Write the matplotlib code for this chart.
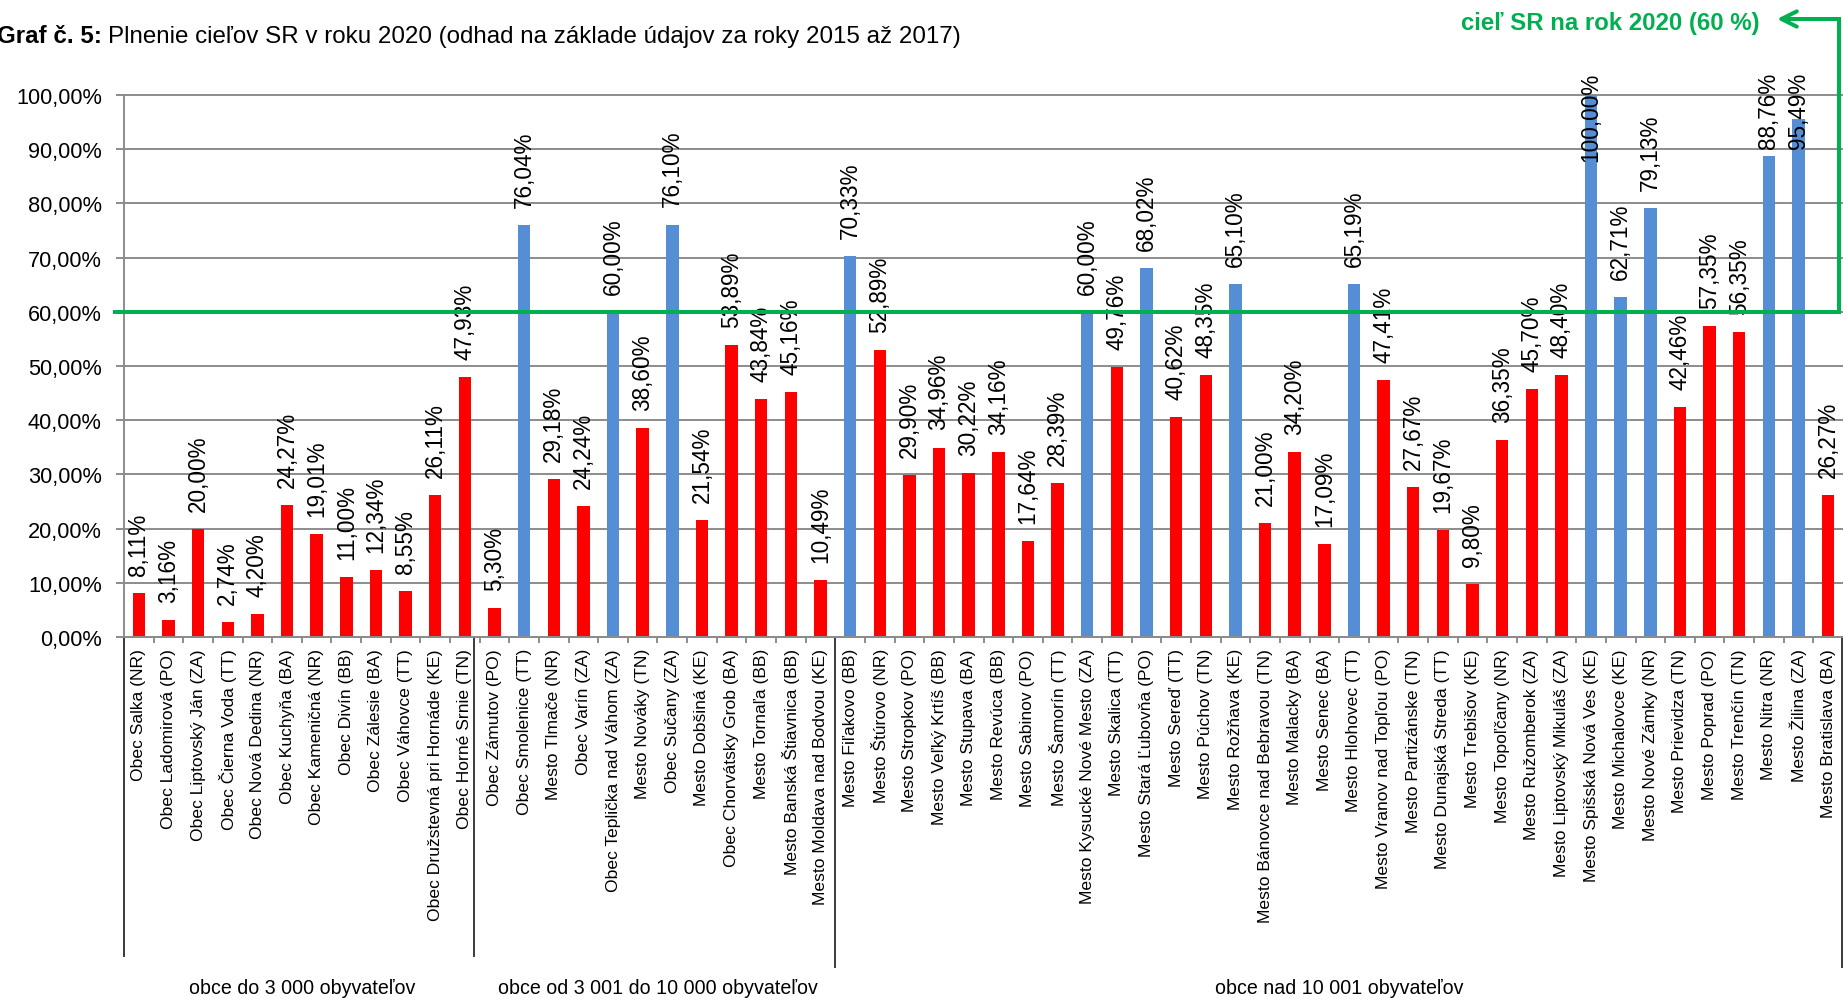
import numpy as np
import matplotlib
matplotlib.use('Agg')
import matplotlib.pyplot as plt
from matplotlib import font_manager
from matplotlib.transforms import blended_transform_factory

# --- data ---
categories = [
    'Obec Salka (NR)', 'Obec Ladomirová (PO)', 'Obec Liptovský Ján (ZA)', 'Obec Čierna Voda (TT)',
    'Obec Nová Dedina (NR)', 'Obec Kuchyňa (BA)', 'Obec Kameničná (NR)', 'Obec Divín (BB)',
    'Obec Zálesie (BA)', 'Obec Váhovce (TT)', 'Obec Družstevná pri Hornáde (KE)', 'Obec Horné Srnie (TN)',
    'Obec Zámutov (PO)', 'Obec Smolenice (TT)', 'Mesto Tlmače (NR)', 'Obec Varín (ZA)',
    'Obec Teplička nad Váhom (ZA)', 'Mesto Nováky (TN)', 'Obec Sučany (ZA)', 'Mesto Dobšiná (KE)',
    'Obec Chorvátsky Grob (BA)', 'Mesto Tornaľa (BB)', 'Mesto Banská Štiavnica (BB)', 'Mesto Moldava nad Bodvou (KE)',
    'Mesto Fiľakovo (BB)', 'Mesto Štúrovo (NR)', 'Mesto Stropkov (PO)', 'Mesto Veľký Krtíš (BB)',
    'Mesto Stupava (BA)', 'Mesto Revúca (BB)', 'Mesto Sabinov (PO)', 'Mesto Šamorín (TT)',
    'Mesto Kysucké Nové Mesto (ZA)', 'Mesto Skalica (TT)', 'Mesto Stará Ľubovňa (PO)', 'Mesto Sereď (TT)',
    'Mesto Púchov (TN)', 'Mesto Rožňava (KE)', 'Mesto Bánovce nad Bebravou (TN)', 'Mesto Malacky (BA)',
    'Mesto Senec (BA)', 'Mesto Hlohovec (TT)', 'Mesto Vranov nad Topľou (PO)', 'Mesto Partizánske (TN)',
    'Mesto Dunajská Streda (TT)', 'Mesto Trebišov (KE)', 'Mesto Topoľčany (NR)', 'Mesto Ružomberok (ZA)',
    'Mesto Liptovský Mikuláš (ZA)', 'Mesto Spišská Nová Ves (KE)', 'Mesto Michalovce (KE)', 'Mesto Nové Zámky (NR)',
    'Mesto Prievidza (TN)', 'Mesto Poprad (PO)', 'Mesto Trenčín (TN)', 'Mesto Nitra (NR)',
    'Mesto Žilina (ZA)', 'Mesto Bratislava (BA)',
]
values = [
    8.11, 3.16, 20.00, 2.74, 4.20, 24.27, 19.01, 11.00, 12.34, 8.55, 26.11, 47.93,
    5.30, 76.04, 29.18, 24.24, 60.00, 38.60, 76.10, 21.54, 53.89, 43.84, 45.16, 10.49,
    70.33, 52.89, 29.90, 34.96, 30.22, 34.16, 17.64, 28.39, 60.00, 49.76, 68.02, 40.62,
    48.35, 65.10, 21.00, 34.20, 17.09, 65.19, 47.41, 27.67, 19.67, 9.80, 36.35, 45.70,
    48.40, 100.00, 62.71, 79.13, 42.46, 57.35, 56.35, 88.76, 95.49, 26.27,
]
group_names = ['obce do 3 000 obyvateľov', 'obce od 3 001 do 10 000 obyvateľov', 'obce nad 10 001 obyvateľov']
group_sizes = [12, 12, 34]
target = 60

RED = '#FF0000'
BLUE = '#558ED5'
GREEN = '#00B050'
GRID = '#8C8C8C'

W, H, DPI = 1843, 1003, 100

# Arial Narrow look-alike if present, otherwise regular width scaled down
names = {f.name for f in font_manager.fontManager.ttflist}
if 'Liberation Sans Narrow' in names:
    FONT, K = 'Liberation Sans Narrow', 1.0
else:
    FONT, K = 'Liberation Sans', 0.84
plt.rcParams['font.family'] = [FONT, 'DejaVu Sans']

fig = plt.figure(figsize=(W / DPI, H / DPI), dpi=DPI)
fig.patch.set_facecolor('white')

# plot area in pixels (left, top, right, bottom)
L, T, R, B = 124, 96, 1843, 638
ax = fig.add_axes([L / W, 1 - B / H, (R - L) / W, (B - T) / H])

x = np.arange(len(values))
colors = [BLUE if v >= target else RED for v in values]
ax.bar(x, values, width=0.42, color=colors, zorder=2)

ax.set_xlim(-0.5, len(values) - 0.5)
ax.set_ylim(0, 100)
yt = np.arange(0, 101, 10)
ax.set_yticks(yt)
ax.set_yticklabels([f'{v:.2f}%'.replace('.', ',') for v in yt])
ax.yaxis.grid(True, color=GRID, lw=1.4)
ax.set_axisbelow(True)
for gl in ax.get_ygridlines():
    gl.set_clip_on(False)
ax.tick_params(axis='y', length=6, width=1.4, color=GRID, pad=10, labelsize=18.7 * K)

ax.set_xticks(x)
ax.set_xticklabels(categories, rotation=90, fontsize=15 * K)
ax.tick_params(axis='x', which='major', length=0, pad=8)
ax.set_xticks(np.arange(len(values) + 1) - 0.5, minor=True)
ax.tick_params(axis='x', which='minor', length=4, width=1.4, color=GRID)

for s in ['top', 'right']:
    ax.spines[s].set_visible(False)
for s in ['left', 'bottom']:
    ax.spines[s].set_color(GRID)
    ax.spines[s].set_linewidth(1.4)

# data labels
labels = []
for xi, v in zip(x, values):
    t = ax.annotate(f'{v:.2f}%'.replace('.', ','), xy=(xi, v), xytext=(0, 13),
                    textcoords='offset points', rotation=90, ha='center', va='bottom',
                    fontsize=19.3 * K, zorder=3, annotation_clip=False)
    labels.append(t)

# group separators and names
trans = blended_transform_factory(ax.transData, ax.transAxes)
bounds = np.concatenate([[0], np.cumsum(group_sizes)]) - 0.5
sep_shift = [0, -0.2, 0, -0.05]
ends = [957, 957, 968, 968]
for b, s, e in zip(bounds, sep_shift, ends):
    ax.plot([b + s, b + s], [0, (B - e) / (B - T)], transform=trans, color='#3A3A3A',
            lw=1.4, clip_on=False, zorder=1)
for name, b0, b1 in zip(group_names, bounds[:-1], bounds[1:]):
    ax.text((b0 + b1) / 2, (B - 989) / (B - T), name, transform=trans, ha='center',
            va='center', fontsize=16.8 * K)

# target line with arrow
cw = (R - L) / len(values)
y_top = (B - 20) / (B - T) * 100
x_right = (1839 - L) / cw - 0.5
x_left = (115 - L) / cw - 0.5
x_tip = (1777 - L) / cw - 0.5
ax.plot([x_left, x_right, x_right, x_tip + 0.3], [target, target, y_top, y_top],
        color=GREEN, lw=2.9, clip_on=False, zorder=5, solid_joinstyle='miter')
ax.annotate('', xy=(x_tip, y_top), xytext=(x_tip + 0.6, y_top),
            arrowprops=dict(arrowstyle='->,head_length=1.1,head_width=0.55', color=GREEN,
                            lw=2.9, shrinkA=0, shrinkB=0),
            annotation_clip=False, zorder=5)
ax.text(x_tip - 0.6, y_top - 0.6, 'cieľ SR na rok 2020 (60 %)', ha='right', va='center',
        color=GREEN, fontweight='bold', fontsize=20.6 * K, clip_on=False)

# title
TS = 20.7 * K
t1 = fig.text(-3 / W, 1 - 43 / H, 'Graf č. 5:', fontweight='bold', fontsize=TS, va='baseline')

fig.canvas.draw()
r = fig.canvas.get_renderer()
bb = t1.get_window_extent(r)
fig.text((bb.x1 + 6) / W, 1 - 43 / H,
         'Plnenie cieľov SR v roku 2020 (odhad na základe údajov za roky 2015 až 2017)',
         fontsize=TS, va='baseline')

# keep labels inside the chart area (like Excel does)
limit = H - 73
for t in labels:
    e = t.get_window_extent(r)
    if e.y1 > limit:
        dx, dy = t.xyann
        t.xyann = (dx, dy - (e.y1 - limit) * 72 / DPI)

fig.savefig('out.png', dpi=DPI)
